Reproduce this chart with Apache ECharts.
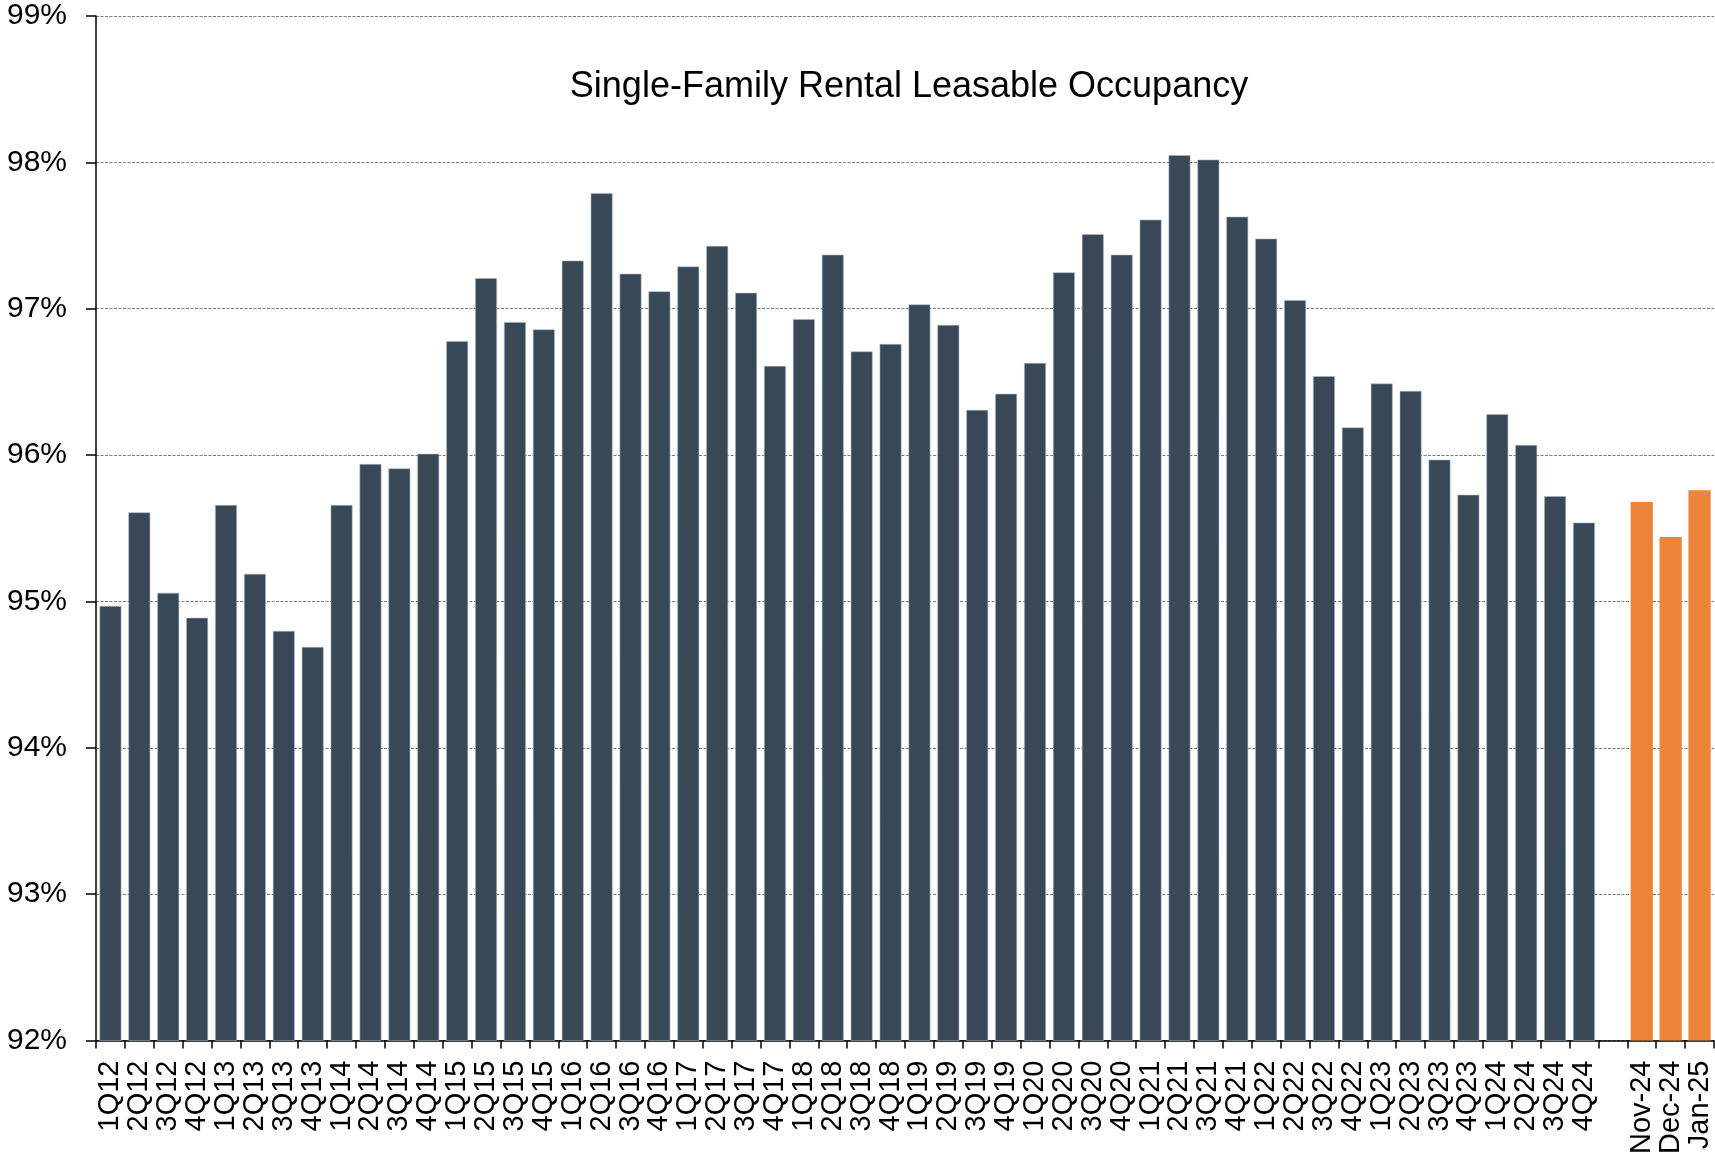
<!DOCTYPE html>
<html>
<head>
<meta charset="utf-8">
<title>Single-Family Rental Leasable Occupancy</title>
<script src="https://cdn.jsdelivr.net/npm/echarts@6/dist/echarts.min.js"></script>
<style>
  html, body { margin: 0; padding: 0; background: #ffffff; }
  #chart { width: 1715px; height: 1157px; }
</style>
</head>
<body>
<div id="chart"></div>
<script>
// Quarterly leasable occupancy (%), 1Q12 through 4Q24
const quarterLabels = [
  '1Q12','2Q12','3Q12','4Q12','1Q13','2Q13','3Q13','4Q13',
  '1Q14','2Q14','3Q14','4Q14','1Q15','2Q15','3Q15','4Q15',
  '1Q16','2Q16','3Q16','4Q16','1Q17','2Q17','3Q17','4Q17',
  '1Q18','2Q18','3Q18','4Q18','1Q19','2Q19','3Q19','4Q19',
  '1Q20','2Q20','3Q20','4Q20','1Q21','2Q21','3Q21','4Q21',
  '1Q22','2Q22','3Q22','4Q22','1Q23','2Q23','3Q23','4Q23',
  '1Q24','2Q24','3Q24','4Q24'
];
const quarterValues = [
  94.97, 95.61, 95.06, 94.89, 95.66, 95.19, 94.80, 94.69,
  95.66, 95.94, 95.91, 96.01, 96.78, 97.21, 96.91, 96.86,
  97.33, 97.79, 97.24, 97.12, 97.29, 97.43, 97.11, 96.61,
  96.93, 97.37, 96.71, 96.76, 97.03, 96.89, 96.31, 96.42,
  96.63, 97.25, 97.51, 97.37, 97.61, 98.05, 98.02, 97.63,
  97.48, 97.06, 96.54, 96.19, 96.49, 96.44, 95.97, 95.73,
  96.28, 96.07, 95.72, 95.54
];

// Latest monthly readings (%)
const monthLabels = ['Nov-24', 'Dec-24', 'Jan-25'];
const monthValues = [95.68, 95.44, 95.76];

// Y-axis scale (%)
const yMin = 92, yMax = 99, yStep = 1;

// One empty slot separates the quarterly run from the monthly bars
const categories = [...quarterLabels, '', ...monthLabels];
const quarterSeries = [...quarterValues, ...new Array(1 + monthLabels.length).fill('-')];
const monthSeries = [...new Array(quarterLabels.length + 1).fill('-'), ...monthValues];

const FONT = '"Liberation Sans", Arial, Helvetica, sans-serif';
const chart = echarts.init(document.getElementById('chart'), null, { renderer: 'canvas' });

chart.setOption({
  backgroundColor: '#ffffff',
  animation: false,
  title: {
    text: 'Single-Family Rental Leasable Occupancy',
    left: 904,
    textAlign: 'center',
    top: 64,
    textStyle: { fontFamily: FONT, fontSize: 36, fontWeight: 'normal', color: '#000000' }
  },
  grid: { left: 96, right: 1, top: 16, bottom: 112, containLabel: false },
  xAxis: {
    type: 'category',
    data: categories,
    boundaryGap: true,
    axisLine: { show: true, lineStyle: { color: '#000000', width: 1.5 } },
    axisTick: { show: true, interval: 0, length: 8, lineStyle: { color: '#000000', width: 1.5 } },
    axisLabel: {
      interval: 0,
      rotate: 90,
      margin: 20,
      fontFamily: FONT,
      fontSize: 29,
      color: '#000000'
    },
    splitLine: { show: false }
  },
  yAxis: {
    type: 'value',
    min: yMin,
    max: yMax,
    interval: yStep,
    axisLine: { show: true, lineStyle: { color: '#000000', width: 1.5 } },
    axisTick: { show: true, length: 10, lineStyle: { color: '#000000', width: 1.5 } },
    axisLabel: {
      margin: 29,
      formatter: '{value}%',
      fontFamily: FONT,
      fontSize: 30,
      color: '#000000'
    },
    splitLine: { show: true, lineStyle: { color: '#7a7a7a', width: 1, type: [3, 1.5] } }
  },
  series: [
    {
      name: 'Quarterly',
      type: 'bar',
      data: quarterSeries,
      barCategoryGap: '23%',
      barGap: '-100%',
      itemStyle: { color: '#394856', borderColor: 'rgba(170,182,194,0.55)', borderWidth: 1 },
      z: 2
    },
    {
      name: 'Monthly',
      type: 'bar',
      data: monthSeries,
      barCategoryGap: '23%',
      barGap: '-100%',
      itemStyle: { color: '#ED843B' },
      z: 2
    }
  ]
});
</script>
</body>
</html>
